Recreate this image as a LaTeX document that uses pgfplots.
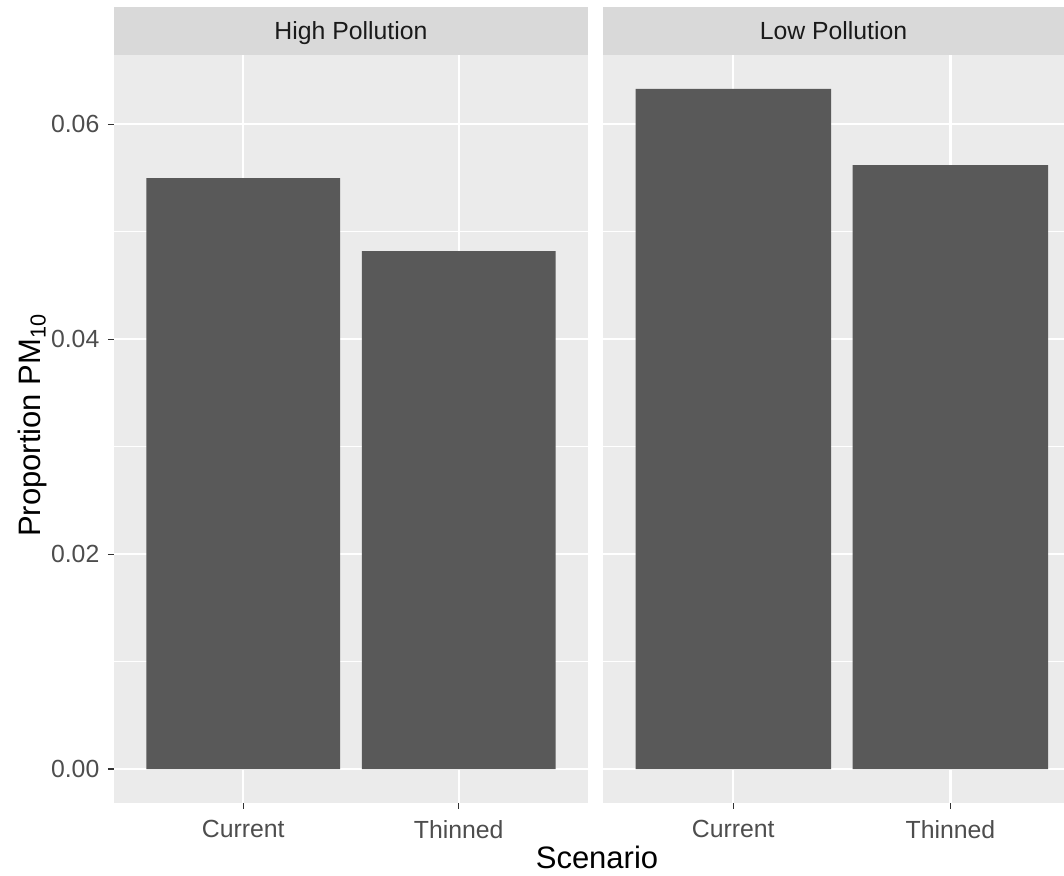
\documentclass[border=0pt]{standalone}
\usepackage{pgfplots}
\pgfplotsset{compat=1.18}
\usepackage{fontspec}
\setmainfont{Liberation Sans}
\definecolor{panelbg}{HTML}{EBEBEB}
\definecolor{stripbg}{HTML}{D9D9D9}
\definecolor{bargray}{HTML}{595959}
\definecolor{axtext}{HTML}{4D4D4D}
\definecolor{striptext}{HTML}{1A1A1A}
\definecolor{tickcol}{HTML}{333333}
\pgfplotsset{
  every axis title shift=0pt,
  facet/.style={
    scale only axis,
    width=#1, height=374pt,
    anchor=south west,
    ymin=-0.00316, ymax=0.06646,
    xmin=0.4,
    axis background/.style={fill=panelbg},
    axis line style={draw=none},
    ytick={0,0.02,0.04,0.06},
    minor ytick={0.01,0.03,0.05},
    xtick={1,2},
    xticklabels={Current,Thinned},
    ymajorgrids, yminorgrids, xmajorgrids,
    major grid style={white, line width=1.1pt},
    minor grid style={white, line width=0.55pt},
    tick align=outside,
    xtick pos=bottom, ytick pos=left,
    major tick length=3pt,
    tick style={tickcol, line width=0.55pt},
    minor tick length=0pt,
    tick label style={font=\fontsize{12.4}{14}\selectfont, text=axtext},
    xticklabel style={yshift=-2.2pt},
    yticklabel style={xshift=-0.8pt},
    title style={fill=stripbg, text=striptext, font=\fontsize{12.4}{14}\selectfont,
      minimum width=#1, minimum height=24pt, inner sep=0pt, yshift=0pt,
      at={(axis description cs:0.5,1)}, anchor=south, text depth=0pt},
    ybar, bar width=0.9, bar shift=0pt,
  }
}
\begin{document}
\begin{tikzpicture}
\useasboundingbox (0,0) rectangle (532pt,438pt);
\begin{axis}[facet=237pt, at={(57pt,36.5pt)}, xmax=2.6,
  title={High Pollution},
  yticklabels={0.00,0.02,0.04,0.06},
  xlabel={Scenario},
  xlabel style={font=\fontsize{15.5}{17}\selectfont, text=black,
    at={(axis description cs:1.019,-0.0722)}, anchor=center},
  ylabel={Proportion PM\textsubscript{10}},
  ylabel style={font=\fontsize{15.5}{17}\selectfont, text=black,
    at={(axis description cs:-0.172,0.505)}, anchor=center, rotate=0},
]
\addplot[fill=bargray, draw=none] coordinates {(1,0.0550) (2,0.0482)};
\end{axis}
\begin{axis}[facet=230.5pt, at={(301.5pt,36.5pt)}, xmax=2.523,
  title={Low Pollution},
  yticklabels={}, y tick style={draw=none},
]
\addplot[fill=bargray, draw=none] coordinates {(1,0.0633) (2,0.0562)};
\end{axis}
\end{tikzpicture}
\end{document}
